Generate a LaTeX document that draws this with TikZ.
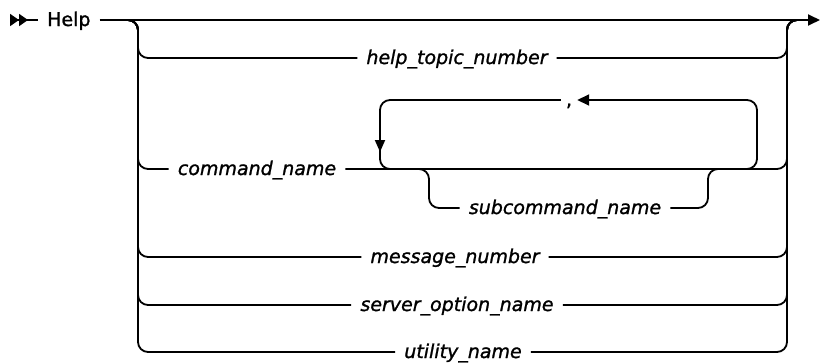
\documentclass[tikz,border=0pt]{standalone}
\usepackage{fontspec}
\setmainfont{DejaVu Sans}[FakeBold=1.2]
\usetikzlibrary{arrows.meta}
\tikzset{rail/.style={line width=1.8pt,rounded corners=10pt},
  kw/.style={font=\fontsize{19}{22}\selectfont,inner xsep=9pt,inner ysep=0pt,text height=14pt,text depth=2pt},
  var/.style={kw,font=\fontsize{19}{22}\selectfont\itshape},
  tip/.style={-{Triangle[length=12pt,width=11pt]}}}

\begin{document}
\begin{tikzpicture}[x=1pt,y=-1pt]
\useasboundingbox (0,0) rectangle (820,362);
% rail points
\coordinate (start) at (10,20);
\coordinate (forkL) at (128,20);
\coordinate (railL) at (138,20);
\coordinate (railR) at (787,20);
\coordinate (forkR) at (797,20);
\coordinate (stop) at (820,20);
% words
\node[kw,anchor=west] (help) at (38,20) {Help};
\node[var] (topic) at (457,58) {help\_topic\_number};
\node[var] (cmd) at (257,169) {command\_name};
\node[var] (subcmd) at (565,208) {subcommand\_name};
\node[kw,inner xsep=5pt] (comma) at (569,100) {,};
\node[var] (msg) at (455,257) {message\_number};
\node[var] (srv) at (457,305) {server\_option\_name};
\node[var] (util) at (463,352) {utility\_name};
% main line
\draw[rail,{Triangle[reversed,length=9pt,width=12pt]Triangle[reversed,length=9pt,width=12pt]}-] (start) -- (help.west);
\draw[rail,tip] (help.east) -- (stop);
% choices
\foreach \n in {topic,cmd,msg,srv,util}{
  \draw[rail] (forkL) -| (railL |- \n) -- (\n.west);
  \draw[rail] (\n.east) -| (railR) -- (forkR);
}
% repeat loop
\coordinate (loopR) at (747,169);
\coordinate (loopL) at (390,169);
\draw[rail,tip] (loopR) -| (757,100) -- (comma.east);
\draw[rail,-{Triangle[length=12pt,width=10pt]}] (comma.west) -| (380,152);
\draw[rail] (380,148) |- (loopL);
% optional subcommand
\draw[rail] (419,169) -| (429,208) -- (subcmd.west);
\draw[rail] (subcmd.east) -| (708,169) -- (718,169);
\end{tikzpicture}
\end{document}
